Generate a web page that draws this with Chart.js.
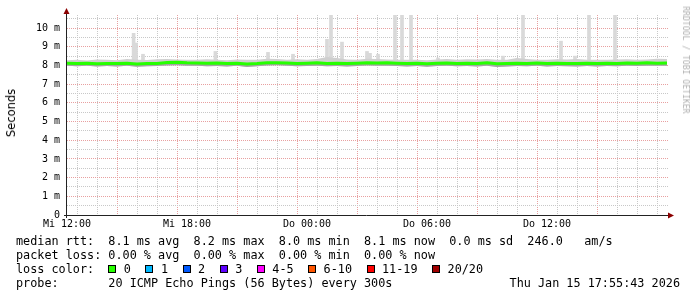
<!DOCTYPE html>
<html>
<head>
<meta charset="utf-8">
<script src="https://cdn.jsdelivr.net/npm/chart.js@4/dist/chart.umd.min.js"></script>
<style>
  body { margin: 0; background: #fff; }
  #wrap { position: relative; width: 697px; height: 297px; overflow: hidden; background: #fff; }
  #chart { position: absolute; left: 0; top: 0; }
  .mono { position: absolute; font-family: "DejaVu Sans Mono", monospace; font-size: 11.8px; line-height: 14px; white-space: pre; color: #000; }
  .box { display: inline-block; width: 6px; height: 6px; border: 1px solid #000; margin-right: 7.5px; }
  .item { margin-right: 14.5px; }
  #ylabel { position: absolute; left: 11px; top: 113px; transform: translate(-50%, -50%) rotate(-90deg);
            font-family: "DejaVu Sans", sans-serif; font-size: 11.5px; white-space: nowrap; color: #000; }
  #credit { position: absolute; left: 686px; top: 60px; transform: translate(-50%, -50%) rotate(90deg);
            font-family: "DejaVu Sans Mono", monospace; font-size: 8.1px; white-space: nowrap; color: #b0b0b0; }
</style>
</head>
<body>
<div id="wrap">
  <canvas id="chart" width="697" height="297"></canvas>
  <div id="ylabel">Seconds</div>
  <div id="credit">RRDTOOL / TOBI OETIKER</div>
  <div class="mono" style="left:16px; top:234px;">median rtt:  8.1 ms avg  8.2 ms max  8.0 ms min  8.1 ms now  0.0 ms sd  246.0   am/s</div>
  <div class="mono" style="left:16px; top:248px;">packet loss: 0.00 % avg  0.00 % max  0.00 % min  0.00 % now</div>
  <div class="mono" id="lossRow" style="left:16px; top:262px;">loss color:  </div>
  <div class="mono" style="left:16px; top:276px;">probe:       20 ICMP Echo Pings (56 Bytes) every 300s</div>
  <div class="mono" style="right:17px; top:276px;">Thu Jan 15 17:55:43 2026</div>
</div>
<script>
// time axis: hours since Mi 12:00, one sample every 30 min
const STEP_HOURS = 0.5;
const xTickLabels = ["Mi 12:00", "Mi 18:00", "Do 00:00", "Do 06:00", "Do 12:00"];
const yTickLabels = ["0", "1 m", "2 m", "3 m", "4 m", "5 m", "6 m", "7 m", "8 m", "9 m", "10 m"];

// median rtt (ms)
const median = [8.12, 8.10, 8.12, 8.09, 8.11, 8.10, 8.12, 8.08, 8.11, 8.10,
                8.16, 8.17, 8.14, 8.13, 8.12, 8.13, 8.10, 8.12, 8.08, 8.10,
                8.14, 8.15, 8.13, 8.10, 8.12, 8.14, 8.11, 8.12, 8.10, 8.12,
                8.15, 8.13, 8.14, 8.12, 8.11, 8.12, 8.09, 8.12, 8.13, 8.11,
                8.12, 8.10, 8.14, 8.09, 8.10, 8.12, 8.11, 8.13, 8.10, 8.12,
                8.11, 8.10, 8.12, 8.10, 8.12, 8.11, 8.13, 8.12, 8.14, 8.12, 8.13];

// smoke envelope, upper and lower pings (ms)
const smokeHi = [8.28, 8.30, 8.26, 8.32, 8.30, 8.28, 8.34, 8.30, 8.29, 8.33,
                 8.35, 8.32, 8.31, 8.30, 8.33, 8.30, 8.28, 8.32, 8.30, 8.30,
                 8.36, 8.34, 8.30, 8.33, 8.31, 8.34, 8.45, 8.40, 8.32, 8.30,
                 8.36, 8.34, 8.32, 8.30, 8.31, 8.30, 8.28, 8.32, 8.35, 8.30,
                 8.33, 8.32, 8.34, 8.30, 8.30, 8.40, 8.34, 8.31, 8.30, 8.33,
                 8.32, 8.34, 8.30, 8.31, 8.30, 8.32, 8.33, 8.30, 8.32, 8.36, 8.34];
const smokeLo = [7.98, 7.96, 7.98, 7.94, 7.97, 7.95, 7.98, 7.93, 7.96, 7.97,
                 8.00, 8.01, 7.99, 7.98, 7.96, 7.97, 7.95, 7.98, 7.92, 7.96,
                 8.00, 8.01, 7.98, 7.96, 7.97, 7.99, 7.96, 7.97, 7.95, 7.97,
                 8.00, 7.98, 7.99, 7.97, 7.95, 7.97, 7.93, 7.97, 7.98, 7.96,
                 7.97, 7.95, 7.98, 7.92, 7.95, 7.97, 7.96, 7.98, 7.95, 7.97,
                 7.96, 7.95, 7.97, 7.95, 7.97, 7.96, 7.98, 7.97, 7.98, 7.99, 7.98];

// single slow pings (hour, max rtt in ms); 11 = off the top of the graph
const spikeHours = [3.33, 3.45, 3.8, 7.42, 10.05, 11.3, 13.0, 13.2, 13.75, 15.0, 15.15,
                    15.55, 16.4, 16.75, 17.2, 18.55, 21.8, 22.8, 24.7, 25.4, 26.1, 27.4];
const spikeTops = [9.72, 9.2, 8.6, 8.75, 8.7, 8.6, 9.4, 11, 9.25, 8.75, 8.65,
                   8.6, 11, 11, 11, 8.4, 8.5, 11, 9.3, 8.5, 11, 11];
const SPIKE_BASE = 8.2;

const lossLabels = ["0", "1", "2", "3", "4-5", "6-10", "11-19", "20/20"];
const lossColors = ["#26ff00", "#00b8ff", "#0059ff", "#5e00ff", "#ff00ff", "#ff5500", "#ff0000", "#a00000"];

const MAJOR_GRID = "#e8a0a0";
const MINOR_GRID = "#c8c8c8";

function buildLossLegend() {
  const row = document.getElementById("lossRow");
  lossLabels.forEach(function (label, i) {
    const box = document.createElement("span");
    box.className = "box";
    box.style.background = lossColors[i];
    row.appendChild(box);
    const txt = document.createElement("span");
    txt.className = "item";
    txt.textContent = label;
    row.appendChild(txt);
  });
}

function series(values) {
  return values.map(function (v, i) { return { x: i * STEP_HOURS, y: v }; });
}

// major grid every 3 hours / every 1 ms
function gridColor(every) {
  return function (c) {
    const v = c.tick ? c.tick.value : NaN;
    return Math.abs(v / every - Math.round(v / every)) < 1e-6 ? MAJOR_GRID : MINOR_GRID;
  };
}

// axis lines with the little red arrows rrdtool draws
const axisArrows = {
  id: "axisArrows",
  afterDraw(chart) {
    const { ctx, chartArea: a } = chart;
    ctx.save();
    ctx.strokeStyle = "#222";
    ctx.lineWidth = 1;
    ctx.beginPath();
    ctx.moveTo(a.left - 0.5, a.bottom + 3);
    ctx.lineTo(a.left - 0.5, a.top - 2);
    ctx.moveTo(a.left - 3, a.bottom + 0.5);
    ctx.lineTo(a.right + 1, a.bottom + 0.5);
    ctx.stroke();
    ctx.fillStyle = "#8b0000";
    ctx.beginPath();
    ctx.moveTo(a.left - 0.5, a.top - 7);
    ctx.lineTo(a.left - 3.5, a.top - 1);
    ctx.lineTo(a.left + 2.5, a.top - 1);
    ctx.closePath();
    ctx.fill();
    ctx.beginPath();
    ctx.moveTo(a.right + 6, a.bottom + 0.5);
    ctx.lineTo(a.right, a.bottom - 2.5);
    ctx.lineTo(a.right, a.bottom + 3.5);
    ctx.closePath();
    ctx.fill();
    ctx.restore();
  },
};

function initChart() {
  const ctx = document.getElementById("chart").getContext("2d");
  new Chart(ctx, {
    type: "line",
    data: {
      datasets: [
        {
          label: "median",
          data: series(median),
          borderColor: "#26ff00",
          borderWidth: 3,
          pointRadius: 0,
          tension: 0,
          fill: false,
          order: 0,
        },
        {
          label: "smoke low",
          data: series(smokeLo),
          borderWidth: 0,
          pointRadius: 0,
          backgroundColor: "#a4a4a4",
          fill: "-1",
          order: 1,
        },
        {
          label: "smoke high",
          data: series(smokeHi),
          borderWidth: 0,
          pointRadius: 0,
          backgroundColor: "#cfcfcf",
          fill: "-1",
          order: 2,
        },
        {
          type: "bar",
          label: "spikes",
          data: spikeHours.map(function (h, i) { return { x: h, y: [SPIKE_BASE, spikeTops[i]] }; }),
          backgroundColor: "#d9d9d9",
          barThickness: 3,
          order: 3,
        },
      ],
    },
    options: {
      responsive: false,
      animation: false,
      devicePixelRatio: 1,
      layout: { padding: { left: 0, top: 15, right: 29, bottom: 62 } },
      plugins: { legend: { display: false }, tooltip: { enabled: false } },
      scales: {
        x: {
          type: "linear",
          min: 0,
          max: 30.05,
          offset: false,
          afterFit: function (scale) { scale.height = 20; },
          border: { display: false, dash: [1, 1] },
          grid: { drawTicks: false, color: gridColor(3) },
          ticks: {
            stepSize: 1,
            includeBounds: false,
            autoSkip: false,
            maxRotation: 0,
            padding: 3,
            color: "#000",
            font: { family: "DejaVu Sans Mono", size: 10 },
            callback: function (v) { return v % 6 === 0 ? xTickLabels[v / 6] : ""; },
          },
        },
        y: {
          type: "linear",
          min: 0,
          max: 10.7,
          afterFit: function (scale) { scale.width = 67; },
          border: { display: false, dash: [1, 1] },
          grid: { drawTicks: false, color: gridColor(1) },
          ticks: {
            stepSize: 0.5,
            includeBounds: false,
            autoSkip: false,
            padding: 7,
            color: "#000",
            font: { family: "DejaVu Sans Mono", size: 10 },
            callback: function (v) { return Number.isInteger(v) ? yTickLabels[v] : ""; },
          },
        },
      },
    },
    plugins: [axisArrows],
  });
}

window.onload = function () {
  buildLossLegend();
  initChart();
};
</script>
</body>
</html>
